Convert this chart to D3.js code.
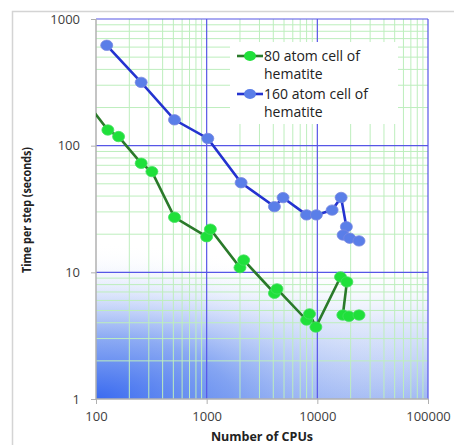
<!DOCTYPE html>
<html><head><meta charset="utf-8">
<script src="https://cdn.jsdelivr.net/npm/d3@7"></script>
<style>html,body{margin:0;padding:0;background:#fff;}svg{display:block;}</style>
</head><body>
<svg id="c" width="454" height="445"></svg>
<script>
// ---- data ----
const seriesNames = ["80 atom cell of hematite", "160 atom cell of hematite"];
const cpus80 = [64, 128, 160, 256, 320, 512, 1000, 1080, 2000, 2160, 4096, 4320, 8000, 8500, 9700, 16200, 18500, 17000, 19300, 23800];
const time80 = [290, 133, 118, 72.6, 62.4, 27.2, 19.1, 21.9, 10.9, 12.5, 6.84, 7.4, 4.2, 4.7, 3.7, 9.2, 8.4, 4.6, 4.5, 4.6];
const cpus160 = [125, 256, 512, 1024, 2048, 4096, 4900, 8000, 9800, 13600, 16400, 18300, 17100, 19600, 23800];
const time160 = [620, 316, 160, 114, 51, 33, 38.9, 28.4, 28.4, 31, 39, 22.9, 19.7, 18.6, 17.7];
const xTicks = [100, 1000, 10000, 100000];
const yTicks = [1, 10, 100, 1000];
const xTitle = "Number of CPUs";
const yTitle = "Time per step (seconds)";

const svg = d3.select("#c");
const L = 96, R = 428, T = 19, B = 399;
const x = d3.scaleLog().domain([100, 100000]).range([L, R]);
const y = d3.scaleLog().domain([1, 1000]).range([B, T]);

// outer frame (left + top)
svg.append("path").attr("d", "M12.5,445 L12.5,11.5 L454,11.5").attr("fill", "none").attr("stroke", "#d4d4d4").attr("stroke-width", 1.5);

const defs = svg.append("defs");
const lg = defs.append("linearGradient").attr("id", "lg").attr("gradientUnits", "userSpaceOnUse")
  .attr("x1", 0).attr("y1", B).attr("x2", 0).attr("y2", 262);
lg.append("stop").attr("offset", 0).attr("stop-color", "#98b2f2").attr("stop-opacity", 0.95);
lg.append("stop").attr("offset", 0.55).attr("stop-color", "#b8cbf6").attr("stop-opacity", 0.45);
lg.append("stop").attr("offset", 1).attr("stop-color", "#ffffff").attr("stop-opacity", 0);
const rg = defs.append("radialGradient").attr("id", "rg").attr("gradientUnits", "userSpaceOnUse")
  .attr("cx", L).attr("cy", B).attr("r", 340)
  .attr("gradientTransform", `translate(${L},${B}) scale(1,0.46) translate(${-L},${-B})`);
rg.append("stop").attr("offset", 0).attr("stop-color", "#3a6af0").attr("stop-opacity", 1);
rg.append("stop").attr("offset", 0.4).attr("stop-color", "#6890f0").attr("stop-opacity", 0.65);
rg.append("stop").attr("offset", 1).attr("stop-color", "#ffffff").attr("stop-opacity", 0);
defs.append("clipPath").attr("id", "plotclip").append("rect").attr("x", L).attr("y", T).attr("width", R - L).attr("height", B - T);

svg.append("rect").attr("x", L).attr("y", T).attr("width", R - L).attr("height", B - T).attr("fill", "#fff");
svg.append("rect").attr("x", L).attr("y", T).attr("width", R - L).attr("height", B - T).attr("fill", "url(#lg)");
svg.append("rect").attr("x", L).attr("y", T).attr("width", R - L).attr("height", B - T).attr("fill", "url(#rg)");

// minor grid
const minorX = [], minorY = [];
[100, 1000, 10000].forEach(d => { for (let k = 2; k <= 9; k++) minorX.push(d * k); });
[1, 10, 100].forEach(d => { for (let k = 2; k <= 9; k++) minorY.push(d * k); });
const grid = svg.append("g");
grid.selectAll(".mx").data(minorX).join("line").attr("x1", d => x(d)).attr("x2", d => x(d)).attr("y1", T).attr("y2", B)
  .attr("stroke", "#bdeebd").attr("stroke-width", 1);
grid.selectAll(".my").data(minorY).join("line").attr("y1", d => y(d)).attr("y2", d => y(d)).attr("x1", L).attr("x2", R)
  .attr("stroke", "#bdeebd").attr("stroke-width", 1);

// legend background box (hides grid)
svg.append("rect").attr("x", 230).attr("y", 42).attr("width", 168).attr("height", 82).attr("fill", "#fff");

// major grid
grid.append("g").selectAll("line").data(xTicks.slice(1)).join("line").attr("x1", d => x(d)).attr("x2", d => x(d)).attr("y1", T).attr("y2", B)
  .attr("stroke", "#5656e6").attr("stroke-width", 1.2);
grid.append("g").selectAll("line").data(yTicks.slice(1)).join("line").attr("y1", d => y(d)).attr("y2", d => y(d)).attr("x1", L).attr("x2", R)
  .attr("stroke", "#5656e6").attr("stroke-width", 1.2);

// axes
const xAxis = d3.axisBottom(x).tickValues(xTicks).tickFormat(d3.format("d")).tickSize(5).tickPadding(8);
const yAxis = d3.axisLeft(y).tickValues(yTicks).tickFormat(d3.format("d")).tickSize(5).tickPadding(11);
const gx = svg.append("g").attr("transform", `translate(0,${B})`).call(xAxis);
const gy = svg.append("g").attr("transform", `translate(${L},0)`).call(yAxis);
[gx, gy].forEach(g => {
  g.select(".domain").attr("stroke", "#b0b0b0").attr("stroke-width", 1.5);
  g.selectAll(".tick line").attr("stroke", "#b0b0b0");
  g.selectAll(".tick text").attr("fill", "#404040").attr("font-family", "Open Sans, sans-serif").attr("font-size", 13);
});
gx.select(".domain").attr("d", `M${L},0H${R}`);
gy.select(".domain").attr("d", `M0,${B}V${T}`);

// data
const data80 = cpus80.map((c, i) => [c, time80[i]]);
const data160 = cpus160.map((c, i) => [c, time160[i]]);
const line = d3.line().x(d => x(d[0])).y(d => y(d[1]));
const plot = svg.append("g").attr("clip-path", "url(#plotclip)");
plot.append("path").datum(data80).attr("d", line).attr("fill", "none").attr("stroke", "#2a7a2a").attr("stroke-width", 2.6);
plot.append("path").datum(data160).attr("d", line).attr("fill", "none").attr("stroke", "#2433d0").attr("stroke-width", 2.6);
plot.append("g").selectAll("ellipse").data(data80.filter(d => d[0] >= 100)).join("ellipse")
  .attr("cx", d => x(d[0])).attr("cy", d => y(d[1])).attr("rx", 6).attr("ry", 5.2)
  .attr("fill", "#1fe03a").attr("stroke", "#44e060").attr("stroke-width", 0.8);
plot.append("g").selectAll("ellipse").data(data160).join("ellipse")
  .attr("cx", d => x(d[0])).attr("cy", d => y(d[1])).attr("rx", 6).attr("ry", 5.2)
  .attr("fill", "#5a7ee8").attr("stroke", "#7a88e0").attr("stroke-width", 0.8);

// legend
const leg = svg.append("g").attr("font-family", "Open Sans, sans-serif").attr("font-size", 14).attr("fill", "#222");
const legCol = [["#2a7a2a", "#1fe03a"], ["#2433d0", "#5a7ee8"]];
const legY = [56, 94];
seriesNames.forEach((name, i) => {
  const yy = legY[i];
  leg.append("line").attr("x1", 237).attr("x2", 263).attr("y1", yy).attr("y2", yy).attr("stroke", legCol[i][0]).attr("stroke-width", 2.6);
  leg.append("ellipse").attr("cx", 250).attr("cy", yy).attr("rx", 6).attr("ry", 5).attr("fill", legCol[i][1]);
  const parts = name.split(" hematite");
  const t = leg.append("text").attr("x", 264).attr("y", yy + 5);
  t.append("tspan").attr("x", 264).text(parts[0]);
  t.append("tspan").attr("x", 264).attr("dy", 17.5).text("hematite");
});

// titles
svg.append("text").attr("x", L + (R - L) / 2).attr("y", 441).attr("text-anchor", "middle")
  .attr("font-family", "Open Sans, sans-serif").attr("font-weight", "bold").attr("font-size", 12.5).attr("fill", "#222").text(xTitle);
svg.append("text").attr("transform", "translate(31,210) rotate(-90)").attr("text-anchor", "middle")
  .attr("font-family", "Open Sans, sans-serif").attr("font-weight", "bold").attr("font-size", 11.5).attr("fill", "#222")
  .attr("textLength", 126).attr("lengthAdjust", "spacingAndGlyphs").text(yTitle);
</script>
</body></html>
